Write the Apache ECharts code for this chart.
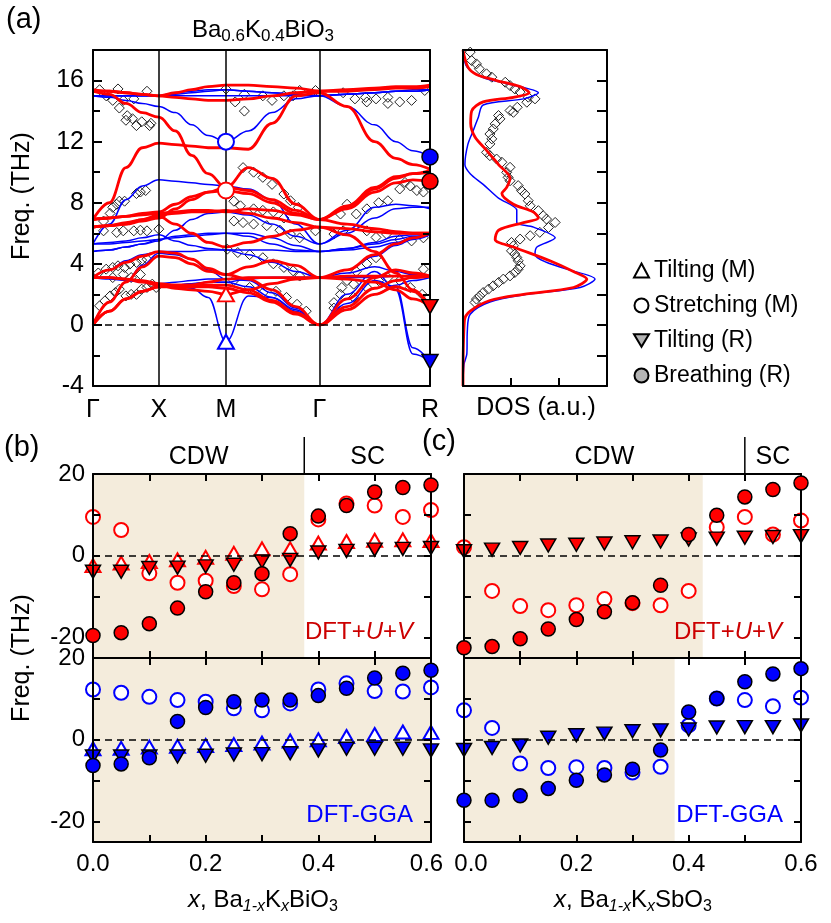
<!DOCTYPE html>
<html>
<head>
<meta charset="utf-8">
<script src="https://cdn.jsdelivr.net/npm/echarts@6/dist/echarts.min.js"></script>
<style>
  html, body { margin: 0; padding: 0; background: #fff; }
  #main { width: 831px; height: 923px; }
</style>
</head>
<body>
<div id="main"></div>
<script>
const FONT = 'Liberation Sans, Arial, Helvetica, sans-serif';
const RED = '#ff0000', BLUE = '#0000ff', BEIGE = '#f4ecdc';

// ---- (a) phonon dispersion of Ba0.6K0.4BiO3 ----
const kTicks = [0, 0.5, 1.01, 1.72, 2.56];
const kLabels = ['Γ', 'X', 'M', 'Γ', 'R'];
const kGrid = [0, 0.125, 0.25, 0.375, 0.5, 0.625, 0.75, 0.875, 1.01, 1.18, 1.36, 1.54, 1.72, 1.93, 2.14, 2.3, 2.43, 2.56];

// DFT+U+V branches (red), values on kGrid
const bandsUV = [
  [0, 0.9, 1.7, 2.2, 2.5, 2.6, 2.6, 2.6, 2.6, 2.3, 1.6, 0.8, 0, 1.0, 2.0, 2.5, 2.2, 1.2],
  [0, 0.9, 1.7, 2.2, 2.5, 2.5, 2.5, 2.5, 2.4, 2.1, 1.5, 0.7, 0, 1.2, 2.4, 2.9, 3.1, 3.2],
  [0, 1.5, 2.8, 3.8, 4.5, 4.4, 4.0, 3.5, 3.3, 3.0, 2.3, 1.2, 0, 1.7, 3.1, 3.6, 3.4, 3.2],
  [3.1, 3.1, 3.0, 2.9, 2.7, 2.6, 2.6, 2.8, 3.0, 3.1, 3.1, 3.1, 3.1, 3.2, 3.2, 3.2, 3.2, 3.2],
  [3.1, 3.1, 3.0, 2.8, 2.6, 2.4, 2.3, 2.2, 2.0, 2.3, 2.7, 3.0, 3.1, 3.0, 2.8, 2.3, 1.7, 1.2],
  [3.1, 3.6, 4.1, 4.5, 4.8, 4.7, 4.3, 3.7, 3.3, 3.8, 4.2, 3.9, 3.1, 3.6, 4.6, 5.3, 5.7, 6.0],
  [6.4, 6.5, 6.6, 6.9, 7.1, 6.6, 6.0, 5.4, 5.1, 5.4, 5.8, 6.2, 6.4, 6.3, 6.1, 6.0, 6.0, 6.0],
  [6.4, 6.5, 6.7, 6.9, 7.2, 7.3, 7.4, 7.4, 7.5, 7.3, 7.0, 6.7, 6.4, 5.9, 4.8, 3.4, 2.3, 1.2],
  [6.4, 6.5, 6.6, 6.8, 7.0, 7.6, 8.2, 8.7, 9.0, 10.3, 9.6, 7.9, 6.9, 7.7, 8.9, 9.6, 9.9, 10.0],
  [6.9, 7.0, 7.1, 7.2, 7.3, 7.4, 7.5, 7.5, 7.4, 7.6, 7.5, 7.2, 6.9, 6.6, 6.3, 6.1, 6.0, 6.0],
  [6.9, 8.0, 10.3, 11.6, 11.9, 11.8, 11.7, 11.6, 11.6, 11.5, 13.2, 15.0, 15.2, 14.3, 12.0, 10.9, 10.5, 10.2],
  [6.9, 7.0, 7.1, 7.3, 7.4, 7.9, 8.4, 8.7, 8.8, 8.6, 8.0, 7.3, 6.9, 7.6, 8.7, 9.3, 9.5, 9.4],
  [15.3, 15.1, 14.5, 13.9, 13.6, 12.7, 11.1, 9.9, 9.0, 8.8, 8.2, 7.5, 6.9, 7.8, 9.0, 9.7, 9.9, 10.1],
  [15.3, 15.3, 15.2, 15.1, 15.0, 15.2, 15.4, 15.6, 15.7, 15.7, 15.6, 15.5, 15.3, 15.4, 15.5, 15.6, 15.6, 15.7],
  [15.4, 15.3, 15.2, 15.1, 15.0, 14.9, 14.8, 14.7, 14.7, 14.8, 15.0, 15.2, 15.3, 15.3, 15.4, 15.5, 15.5, 15.6]
];

// DFT-GGA branches (blue), values on kGrid
const bandsGGA = [
  [0, 0.9, 1.7, 2.2, 2.5, 2.6, 2.4, 1.8, -1.1, 1.9, 1.8, 1.0, 0, 1.0, 2.0, 2.6, 2.9, 3.1],
  [0, 0.9, 1.7, 2.2, 2.5, 2.6, 2.7, 2.8, 2.8, 2.5, 1.8, 0.9, 0, 1.4, 2.9, 2.5, -1.5, -2.4],
  [0, 1.5, 2.8, 3.9, 4.7, 4.6, 4.3, 3.6, 3.0, 2.9, 2.1, 1.1, 0, 2.0, 3.5, 2.3, -1.9, -2.4],
  [3.1, 3.0, 2.9, 2.8, 2.6, 2.6, 2.7, 2.8, 2.8, 3.0, 3.1, 3.1, 3.1, 3.1, 3.1, 3.2, 3.2, 3.2],
  [3.1, 3.6, 4.2, 4.6, 4.8, 4.8, 4.8, 4.9, 4.9, 4.6, 4.1, 3.5, 3.1, 3.4, 3.8, 3.5, 3.3, 3.2],
  [3.1, 3.1, 3.0, 2.9, 2.7, 2.8, 2.9, 3.0, 3.0, 3.1, 3.1, 3.1, 3.1, 3.6, 4.5, 5.2, 5.6, 5.9],
  [4.8, 4.9, 5.1, 5.3, 5.6, 5.8, 5.9, 6.0, 6.0, 6.0, 5.7, 5.2, 4.8, 5.0, 5.3, 5.6, 5.8, 5.9],
  [4.8, 4.9, 5.1, 5.3, 5.5, 6.2, 6.9, 7.3, 7.4, 7.2, 6.6, 5.8, 5.3, 6.0, 7.0, 7.6, 7.7, 7.7],
  [5.3, 5.3, 5.4, 5.5, 5.6, 5.7, 5.8, 5.9, 6.0, 5.8, 5.3, 4.9, 4.8, 5.0, 5.4, 5.8, 5.9, 5.9],
  [5.3, 6.6, 8.2, 9.1, 9.5, 9.4, 9.3, 9.2, 9.1, 8.9, 8.2, 6.6, 5.3, 6.2, 7.7, 7.9, 7.8, 7.6],
  [5.3, 5.4, 5.5, 5.7, 5.9, 5.5, 5.2, 5.0, 4.9, 4.9, 4.9, 4.8, 4.8, 4.9, 5.1, 5.4, 5.7, 5.9],
  [15.0, 14.9, 14.7, 14.5, 14.3, 13.9, 13.1, 12.4, 12.0, 12.7, 13.9, 14.8, 15.0, 14.3, 13.1, 12.0, 11.4, 11.0],
  [15.0, 15.0, 15.0, 15.0, 15.0, 15.0, 15.0, 15.0, 15.0, 15.0, 15.0, 15.0, 15.0, 15.1, 15.2, 15.3, 15.3, 15.4],
  [15.0, 15.0, 15.0, 15.0, 15.0, 15.2, 15.3, 15.4, 15.4, 15.3, 15.2, 15.1, 15.0, 15.1, 15.2, 15.3, 15.3, 15.4],
  [15.0, 15.0, 15.0, 15.0, 15.0, 15.1, 15.2, 15.3, 15.4, 15.3, 15.2, 15.1, 15.0, 15.1, 15.2, 15.3, 15.4, 15.4]
];

// experimental points [k, THz]
const expPoints = [
  [.05,15.4],[.1,15.0],[.15,14.7],[.19,15.45],[.2,14.2],[.23,14.7],[.26,13.7],[.25,13.4],[.3,13.5],[.31,14.8],[.33,13.05],[.37,13.3],[.41,15.3],[.43,13.05],[.44,13.2],
  [.08,6.8],[.13,7.3],[.15,7.7],[.18,7.9],[.2,8.1],[.24,8.1],[.33,8.6],[.36,8.7],[.4,8.8],
  [.08,6.16],[.18,6.05],[.23,6.16],[.31,6.16],[.36,6.2],[.41,6.16],[.5,6.27],
  [.04,3.4],[.1,3.65],[.15,3.76],[.19,3.87],[.24,3.76],[.28,3.98],[.33,4.09],[.37,4.24],[.41,4.3],
  [.15,3.1],[.23,3.3],[.29,3.1],[.36,3.3],
  [.05,1.25],[.09,1.57],[.13,1.9],[.17,2.12],[.2,2.34],[.25,1.9],[.29,2.0],[.33,2.0],[.37,2.34],[.41,2.45],[.45,2.67],[.48,2.45],
  [1.01,15.45],[1.08,14.6],[1.15,15.1],[1.15,14.0],[1.29,15.0],[1.36,14.7],[1.45,15.0],[1.52,15.0],[1.57,15.35],[1.69,15.35],
  [1.14,10.3],[1.22,10.0],[1.29,9.66],[1.36,9.2],[1.45,8.57],[1.5,8.13],[1.56,7.7],
  [1.07,8.1],[1.12,7.8],[1.22,7.6],[1.29,7.5],[1.37,7.4],[1.45,7.0],
  [1.07,6.8],[1.14,6.7],[1.22,6.6],[1.32,6.5],[1.42,6.2],[1.5,5.95],[1.57,5.7],[1.69,6.16],
  [1.02,4.96],[1.1,4.74],[1.19,4.6],[1.29,4.4],[1.37,4.0],[1.45,3.76],[1.52,3.54],[1.57,3.2],
  [1.07,2.9],[1.19,2.45],[1.29,2.1],[1.39,2.2],[1.47,1.8],[1.55,1.35],[1.62,0.9],
  [1.9,15.2],[1.99,14.8],[2.07,14.9],[2.08,14.6],[2.15,14.8],[2.24,14.9],[2.24,14.5],[2.33,14.6],[2.42,14.7],[2.52,15.35],
  [1.88,7.26],[1.93,7.9],[2.0,7.26],[2.08,7.6],[2.17,8.0],[2.24,8.13],[2.33,8.9],[2.41,9.1],[2.46,8.8],[2.51,8.7],[2.37,9.33],
  [1.83,5.95],[1.9,6.16],[2.08,6.16],[2.15,5.73],[2.23,5.95],[2.33,5.6],[2.42,5.5],[2.51,5.7],
  [1.83,1.46],[1.88,2.0],[1.93,2.9],[2.0,3.5],[2.08,4.0],[2.15,4.4],[1.89,2.45],[1.98,2.67],[2.08,2.45],
  [2.17,2.9],[2.24,3.1],[2.33,2.9],[2.41,2.45],[2.5,2.0],[2.51,3.65],[1.83,1.1],[1.98,1.8]
];

// highlighted modes: tilting (M), stretching (M), tilting (R), breathing (R)
const modeK = [1.01, 1.01, 2.56, 2.56];
const modeGGA = [-1.1, 12.0, -2.4, 11.0];
const modeUV = [2.0, 8.8, 1.2, 9.4];

// ---- DOS ----
const dosUVFreq = [18.0, 16.9, 16.4, 16.0, 15.6, 15.2, 14.9, 14.6, 14.0, 13.2, 12.3, 11.4, 10.5, 9.6, 9.0, 8.6, 7.9, 7.4, 7.0, 6.7, 6.2, 5.6, 5.1, 4.2, 3.5, 3.0, 2.45, 2.0, 1.6, 0.9, 0.3, -4.0];
const dosUV     = [0.0, 0.1, 0.28, 0.7, 1.19, 1.38, 1.05, 0.42, 0.18, 0.16, 0.25, 0.5, 0.74, 0.98, 0.91, 0.81, 1.05, 1.46, 1.57, 1.26, 0.74, 0.67, 1.05, 1.81, 2.3, 2.58, 2.3, 1.26, 0.56, 0.15, 0.03, 0.0];
const dosGGAFreq = [18.0, 16.9, 16.2, 15.8, 15.2, 14.8, 14.4, 13.6, 12.7, 11.8, 10.5, 9.9, 9.2, 8.3, 7.5, 6.7, 6.4, 5.7, 5.1, 4.6, 4.1, 3.65, 3.0, 2.45, 2.0, 1.5, 0.7, -0.4, -1.9, -2.6, -4.0];
const dosGGA     = [0.0, 0.08, 0.42, 0.91, 1.57, 1.26, 0.42, 0.32, 0.21, 0.1, 0.04, 0.15, 0.42, 0.74, 1.12, 1.12, 1.47, 1.92, 1.54, 1.5, 1.74, 2.16, 2.75, 2.44, 1.33, 0.56, 0.15, 0.09, 0.08, 0.02, 0.0];
const dosExp = [
  [0.15,17.86],[0.18,17.31],[0.28,17.09],[0.34,16.77],[0.49,16.44],[0.6,16.22],[0.88,15.89],[0.98,15.67],[1.08,15.45],[1.19,15.24],
  [1.36,14.91],[1.5,14.8],[1.33,14.58],[1.13,14.25],[0.98,14.04],[1.05,13.92],[0.74,13.71],[0.77,13.49],[0.67,13.16],[0.63,12.83],
  [0.56,12.5],[0.6,12.18],[0.56,11.85],[0.49,11.3],[0.56,11.08],[0.7,10.86],[0.81,10.65],[0.98,10.32],[0.91,9.99],[0.94,9.66],
  [0.98,9.44],[1.15,9.12],[1.22,8.79],[1.29,8.57],[1.36,8.13],[1.4,7.8],[1.57,7.48],[1.67,7.15],[1.74,6.93],[1.92,6.71],
  [1.78,6.38],[1.6,6.06],[1.4,5.84],[1.19,5.62],[1.01,5.4],[1.05,5.18],[1.01,4.85],[1.08,4.64],[1.12,4.42],[1.15,4.2],
  [1.19,3.87],[1.15,3.65],[1.08,3.43],[0.98,3.21],[0.84,3.0],[0.74,2.78],[0.63,2.56],[0.53,2.34],[0.42,2.12],[0.35,1.9],
  [0.28,1.69],[0.25,1.47]
];

// ---- (b), (c) soft modes versus K content ----
const xs = [0, 0.05, 0.1, 0.15, 0.2, 0.25, 0.3, 0.35, 0.4, 0.45, 0.5, 0.55, 0.6];
const bUVBreathing  = [-19.5, -18.8, -16.6, -12.8, -8.8, -6.6, -4.4, 5.4, 9.7, 12.3, 15.6, 16.7, 17.3];
const bUVStretching = [9.5, 6.3, -4.3, -6.6, -6.1, -7.4, -8.2, -4.5, 8.9, 12.8, 12.3, 9.5, 11.2];
const bUVTiltM      = [-2.4, -1.8, -1.4, -1.0, -0.4, 0.6, 1.7, 1.7, 3.1, 3.5, 3.8, 3.9, 3.7];
const bUVTiltR      = [-3.9, -3.9, -3.0, -2.9, -2.6, -2.2, -1.4, -1.0, 0.8, 1.2, 1.5, 1.7, 1.9];
const bGGABreathing  = [-6.3, -5.9, -4.4, 4.5, 7.9, 9.3, 9.7, 9.7, 10.8, 12.6, 15.1, 16.3, 17.0];
const bGGAStretching = [12.3, 11.5, 10.5, 9.7, 9.3, 7.7, 7.2, 8.9, 12.3, 13.8, 11.9, 11.8, 12.8];
const bGGATiltM      = [-2.2, -2.1, -1.8, -1.6, -1.4, -1.2, -0.8, -0.3, 0, 0.8, 1.3, 1.9, 1.8];
const bGGATiltR      = [-4.1, -4.1, -4.1, -4.1, -3.9, -3.6, -3.5, -3.3, -2.6, -2.2, -2.2, -2.2, -2.6];
const cUVBreathing  = [-22.5, -22.2, -20.3, -17.9, -15.6, -13.7, -11.5, -7.2, 5.2, 9.9, 14.4, 16.2, 17.8];
const cUVStretching = [2.1, -8.6, -12.3, -13.3, -12.1, -10.6, -11.6, -12.1, -8.6, 7.0, 9.5, 5.2, 8.6];
const cUVTiltR      = [1.1, 1.5, 1.9, 2.5, 2.7, 3.0, 3.3, 3.5, 4.0, 4.2, 4.4, 4.6, 4.8];
const cGGABreathing  = [-14.8, -14.8, -13.7, -11.9, -9.9, -8.6, -7.2, -2.5, 6.8, 10.1, 14.2, 16.1, 17.4];
const cGGAStretching = [7.2, 2.9, -5.8, -6.9, -6.7, -6.9, -8.0, -6.6, 3.5, 10.1, 9.7, 8.2, 10.3];
const cGGATiltR      = [-2.5, -2.0, -1.4, 0.5, 1.1, 1.5, 2.1, 2.3, 2.5, 3.0, 3.1, 3.1, 3.5];
// CDW region ends (shaded) and CDW/SC boundary
const shadeEnd = [0.375, 0.6, 0.425, 0.375];   // b-top, b-bottom, c-top, c-bottom
const phaseLine = [0.375, 0.5];                // b, c

const chart = echarts.init(document.getElementById('main'), null, { renderer: 'canvas' });

const axLine = { show: true, onZero: false, lineStyle: { color: '#000', width: 2 } };
const tickIn = { show: true, inside: true, length: 7, lineStyle: { color: '#000', width: 2 } };
const noLabel = { show: false };
const noSplit = { show: false };

function xAx(gi, pos, min, max, extra) {
  return Object.assign({ type: 'value', gridIndex: gi, position: pos, min: min, max: max, z: 10,
    axisLine: axLine, axisTick: { show: false }, axisLabel: noLabel, splitLine: noSplit }, extra || {});
}
function yAx(gi, pos, min, max, extra) {
  return Object.assign({ type: 'value', gridIndex: gi, position: pos, min: min, max: max, z: 10,
    axisLine: axLine, axisTick: { show: false }, axisLabel: noLabel, splitLine: noSplit }, extra || {});
}

// x tick labels of (b)/(c): edge labels nudged apart like the original
function xLab(edge) {
  return {
    show: true, color: '#000', fontSize: 24, fontFamily: FONT, margin: 10,
    rich: { r: { fontSize: 24, fontFamily: FONT, color: '#000', padding: [0, 9, 0, 0] },
            l: { fontSize: 24, fontFamily: FONT, color: '#000', padding: [0, 0, 0, 14] } },
    formatter: function (v) {
      const t = Math.round(v * 10);
      if (t % 2) return '';
      const s = (t / 10).toFixed(1);
      if (edge === 'r' && t === 6) return '{r|' + s + '}';
      if (edge === 'l' && t === 0) return '{l|' + s + '}';
      return s;
    }
  };
}
const freqTicks = Object.assign({}, tickIn, { customValues: [-20, -10, 0, 10, 20] });
const freqLabel = { show: true, customValues: [-20, 0, 20], color: '#000', fontSize: 24, fontFamily: FONT, margin: 8 };

const xAxes = [
  xAx(0, 'bottom', 0, 2.56, { axisLabel: { show: true, customValues: kTicks, color: '#000', fontSize: 25, fontFamily: FONT, margin: 12,
    formatter: function (v) { const i = kTicks.indexOf(v); return i < 0 ? '' : kLabels[i]; } } }),
  xAx(0, 'top', 0, 2.56),
  xAx(1, 'bottom', 0, 3, { interval: 1, axisTick: Object.assign({}, tickIn, { length: 8 }) }),
  xAx(1, 'top', 0, 3)
];
const yAxes = [
  yAx(0, 'left', -4, 18, { interval: 4, axisTick: Object.assign({}, tickIn, { length: 9 }),
    minorTick: { show: true, splitNumber: 2, length: 7, lineStyle: { color: '#000', width: 2 } },
    axisLabel: { show: true, showMaxLabel: false, color: '#000', fontSize: 25, fontFamily: FONT, margin: 9 } }),
  yAx(0, 'right', -4, 18, { interval: 4, axisTick: Object.assign({}, tickIn, { length: 9 }),
    minorTick: { show: true, splitNumber: 2, length: 7, lineStyle: { color: '#000', width: 2 } } }),
  yAx(1, 'left', -4, 18),
  yAx(1, 'right', -4, 18, { interval: 2, axisTick: Object.assign({}, tickIn, { length: 10 }) })
];
for (let g = 2; g < 6; g++) {
  const lower = (g === 3 || g === 5);
  const showY = (g === 2 || g === 3);
  xAxes.push(xAx(g, 'bottom', 0, 0.6, { interval: 0.1, axisTick: tickIn,
    axisLabel: lower ? xLab(g === 3 ? 'r' : 'l') : noLabel }));
  xAxes.push(xAx(g, 'top', 0, 0.6, { interval: 0.1, axisTick: tickIn }));
  yAxes.push(yAx(g, 'left', -25, 20, { axisTick: freqTicks, axisLabel: showY ? freqLabel : noLabel }));
  yAxes.push(yAx(g, 'right', -25, 20, { axisTick: freqTicks }));
}

const grids = [
  { left: 93, top: 50, width: 337, height: 336 },
  { left: 463, top: 50, width: 144, height: 336 },
  { left: 93, top: 474, width: 338, height: 184 },
  { left: 93, top: 658, width: 338, height: 184 },
  { left: 464, top: 474, width: 337, height: 184 },
  { left: 464, top: 658, width: 337, height: 184 }
].map(function (g) { return Object.assign({ containLabel: false, outerBoundsMode: 'none' }, g); });

const series = [];

// reference lines in (a)
series.push({
  type: 'line', xAxisIndex: 0, yAxisIndex: 0, data: [], z: 1, silent: true,
  markLine: { symbol: 'none', silent: true, label: { show: false }, animation: false,
    data: [
      { xAxis: kTicks[1], lineStyle: { color: '#000', width: 1.5, type: 'solid' } },
      { xAxis: kTicks[2], lineStyle: { color: '#000', width: 1.5, type: 'solid' } },
      { xAxis: kTicks[3], lineStyle: { color: '#000', width: 1.5, type: 'solid' } },
      { yAxis: 0, lineStyle: { color: '#000', width: 1.5, type: [7, 5] } }
    ] }
});
series.push({
  type: 'scatter', xAxisIndex: 0, yAxisIndex: 0, data: expPoints, symbol: 'diamond', symbolSize: 10, z: 2,
  itemStyle: { color: 'rgba(255,255,255,0)', borderColor: '#222', borderWidth: 1, opacity: 1 }
});
function bandSeries(bands, color, width, z) {
  return bands.map(function (b) {
    return { type: 'line', xAxisIndex: 0, yAxisIndex: 0, z: z, silent: true,
      data: b.map(function (f, i) { return [kGrid[i], f]; }),
      smooth: 0.4, smoothMonotone: 'x', symbol: 'none', lineStyle: { color: color, width: width } };
  });
}
bandSeries(bandsGGA, BLUE, 1.5, 3).forEach(function (s) { series.push(s); });
bandSeries(bandsUV, RED, 2.8, 4).forEach(function (s) { series.push(s); });

// highlighted modes in (a)
const modeSym = [
  { symbol: 'triangle', size: [16, 14], open: true, rot: 0 },
  { symbol: 'circle', size: 16, open: true, rot: 0 },
  { symbol: 'triangle', size: [16, 14], open: false, rot: 180 },
  { symbol: 'circle', size: 16, open: false, rot: 0 }
];
modeSym.forEach(function (m, i) {
  const item = function (val, col) {
    return { value: [modeK[i], val], itemStyle: m.open
      ? { color: '#fff', borderColor: col, borderWidth: 2, opacity: 1 }
      : { color: col, borderColor: '#000', borderWidth: 1.5, opacity: 1 } };
  };
  series.push({ type: 'scatter', xAxisIndex: 0, yAxisIndex: 0, z: 12, clip: false,
    symbol: m.symbol, symbolSize: m.size, symbolRotate: m.rot,
    data: [item(modeGGA[i], BLUE), item(modeUV[i], RED)] });
});

// DOS
series.push({ type: 'scatter', xAxisIndex: 2, yAxisIndex: 2, data: dosExp, symbol: 'diamond', symbolSize: 10, z: 2,
  itemStyle: { color: 'rgba(255,255,255,0)', borderColor: '#222', borderWidth: 1, opacity: 1 } });
series.push({ type: 'line', xAxisIndex: 2, yAxisIndex: 2, z: 3, symbol: 'none', smooth: 0.3,
  data: dosGGA.map(function (d, i) { return [d, dosGGAFreq[i]]; }), lineStyle: { color: BLUE, width: 1.5 } });
series.push({ type: 'line', xAxisIndex: 2, yAxisIndex: 2, z: 4, symbol: 'none', smooth: 0.3,
  data: dosUV.map(function (d, i) { return [d, dosUVFreq[i]]; }), lineStyle: { color: RED, width: 2.8 } });

// (b), (c)
function pts(vals) { return vals.map(function (v, i) { return [xs[i], v]; }); }
function panel(g, shade, color, breath, stretch, tiltR, tiltM) {
  const ax = { xAxisIndex: 2 * g, yAxisIndex: 2 * g };
  series.push(Object.assign({ type: 'line', data: [], z: 1, silent: true,
    markArea: { silent: true, itemStyle: { color: BEIGE }, data: [[{ xAxis: 0 }, { xAxis: shade }]] },
    markLine: { silent: true, symbol: 'none', label: { show: false }, animation: false,
      lineStyle: { color: '#000', width: 1.5, type: [7, 5] }, data: [{ yAxis: 0 }] } }, ax));
  if (tiltM) series.push(Object.assign({ type: 'scatter', data: pts(tiltM), symbol: 'triangle', symbolSize: [15, 13], z: 3,
    itemStyle: { color: '#fff', borderColor: color, borderWidth: 2, opacity: 1 } }, ax));
  series.push(Object.assign({ type: 'scatter', data: pts(stretch), symbol: 'circle', symbolSize: 14, z: 3,
    itemStyle: { color: '#fff', borderColor: color, borderWidth: 2, opacity: 1 } }, ax));
  series.push(Object.assign({ type: 'scatter', data: pts(tiltR), symbol: 'triangle', symbolRotate: 180, symbolSize: [15, 13], z: 4,
    itemStyle: { color: color, borderColor: '#000', borderWidth: 1.5, opacity: 1 } }, ax));
  series.push(Object.assign({ type: 'scatter', data: pts(breath), symbol: 'circle', symbolSize: 14, z: 12, clip: false,
    itemStyle: { color: color, borderColor: '#000', borderWidth: 1.5, opacity: 1 } }, ax));
}
panel(2, shadeEnd[0], RED, bUVBreathing, bUVStretching, bUVTiltR, bUVTiltM);
panel(3, shadeEnd[1], BLUE, bGGABreathing, bGGAStretching, bGGATiltR, bGGATiltM);
panel(4, shadeEnd[2], RED, cUVBreathing, cUVStretching, cUVTiltR, null);
panel(5, shadeEnd[3], BLUE, cGGABreathing, cGGAStretching, cGGATiltR, null);

// legend entries (symbol key)
const legendNames = ['Tilting (M)', 'Stretching (M)', 'Tilting (R)', 'Breathing (R)'];
const legendIcons = ['triangle', 'circle', 'path://M0,0L12,0L6,10Z', 'circle'];
const legendFill = ['#fff', '#fff', '#b4b4b4', '#b4b4b4'];
legendNames.forEach(function (n, i) {
  series.push({ type: 'scatter', name: n, xAxisIndex: 2, yAxisIndex: 2, data: [],
    itemStyle: { color: legendFill[i], borderColor: '#000', borderWidth: 1.5, opacity: 1 } });
});

chart.setOption({
  animation: false,
  textStyle: { fontFamily: FONT },
  grid: grids,
  xAxis: xAxes,
  yAxis: yAxes,
  legend: {
    orient: 'vertical', left: 628, top: 254, itemGap: 12, itemWidth: 15, itemHeight: 14, selectedMode: false,
    textStyle: { fontSize: 23, color: '#000', fontFamily: FONT },
    data: legendNames.map(function (n, i) { return { name: n, icon: legendIcons[i] }; })
  },
  series: series
});

// annotations
const sub = { fontSize: 16, lineHeight: 16, verticalAlign: 'bottom', fill: '#000', fontFamily: FONT };
const subT = { fontSize: 17, lineHeight: 17, verticalAlign: 'bottom', fill: '#000', fontFamily: FONT };
const subI = Object.assign({}, sub, { fontStyle: 'italic' });
const ital = { fontStyle: 'italic', fill: '#000', fontSize: 24, fontFamily: FONT };
function txt(x, y, text, opts) {
  return { type: 'text', x: x, y: y, z: 100, rotation: (opts && opts.rot) || 0,
    style: Object.assign({ text: text, fill: '#000', fontSize: 24, fontFamily: FONT, align: 'center', verticalAlign: 'middle' }, opts && opts.style) };
}
const gfx = [
  txt(6, 20, '(a)', { style: { align: 'left', fontSize: 29 } }),
  txt(4, 448, '(b)', { style: { align: 'left', fontSize: 29 } }),
  txt(422, 442, '(c)', { style: { align: 'left', fontSize: 29 } }),
  txt(263, 30, 'Ba{s|0.6}K{s|0.4}BiO{s|3}', { style: { fontSize: 24, lineHeight: 30, rich: { s: subT } } }),
  txt(22, 196, 'Freq. (THz)', { rot: Math.PI / 2, style: { fontSize: 25 } }),
  txt(22, 658, 'Freq. (THz)', { rot: Math.PI / 2, style: { fontSize: 25 } }),
  txt(536, 408, 'DOS (a.u.)', { style: { fontSize: 25 } }),
  txt(263, 900, '{i|x}, Ba{si|1-x}K{si|x}BiO{s|3}', { style: { lineHeight: 30, rich: { i: ital, s: sub, si: subI } } }),
  txt(633, 900, '{i|x}, Ba{si|1-x}K{si|x}SbO{s|3}', { style: { lineHeight: 30, rich: { i: ital, s: sub, si: subI } } }),
  txt(413, 632, 'DFT+{i|U}+{i|V}', { style: { align: 'right', fill: '#cc0000', rich: { i: Object.assign({}, ital, { fill: '#cc0000' }) } } }),
  txt(782, 632, 'DFT+{i|U}+{i|V}', { style: { align: 'right', fill: '#cc0000', rich: { i: Object.assign({}, ital, { fill: '#cc0000' }) } } }),
  txt(413, 815, 'DFT-GGA', { style: { align: 'right', fill: BLUE } }),
  txt(783, 815, 'DFT-GGA', { style: { align: 'right', fill: BLUE } })
];
[[4, 93, 431, phaseLine[0]], [8, 464, 801, phaseLine[1]]].forEach(function (p) {
  const px = chart.convertToPixel({ xAxisIndex: p[0] }, p[3]);
  gfx.push({ type: 'line', z: 100, shape: { x1: px, y1: 437, x2: px, y2: 474 }, style: { stroke: '#000', lineWidth: 1.5 } });
  gfx.push(txt((p[1] + px) / 2, 457, 'CDW', { style: { fontSize: 25 } }));
  gfx.push(txt((px + p[2]) / 2, 457, 'SC', { style: { fontSize: 25 } }));
});
chart.setOption({ graphic: gfx });
</script>
</body>
</html>
